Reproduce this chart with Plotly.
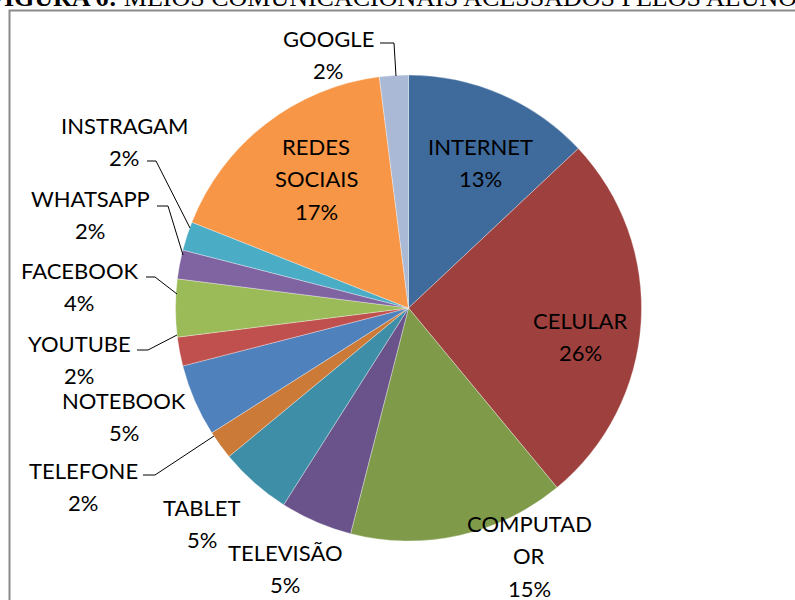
import plotly.graph_objects as go

# ---- data ----
categories = ["INTERNET", "CELULAR", "COMPUTADOR", "TELEVISÃO", "TABLET", "TELEFONE",
              "NOTEBOOK", "YOUTUBE", "FACEBOOK", "WHATSAPP", "INSTRAGAM", "REDES SOCIAIS", "GOOGLE"]
values = [13, 26, 15, 5, 5, 2, 5, 2, 4, 2, 2, 17, 2]
# label wrapping as shown in the chart
label_lines = [["INTERNET"], ["CELULAR"], ["COMPUTAD", "OR"], ["TELEVISÃO"], ["TABLET"], ["TELEFONE"],
               ["NOTEBOOK"], ["YOUTUBE"], ["FACEBOOK"], ["WHATSAPP"], ["INSTRAGAM"], ["REDES", "SOCIAIS"], ["GOOGLE"]]
title_bold = "FIGURA 6:"
title_rest = "MEIOS COMUNICACIONAIS ACESSADOS PELOS ALUNOS"

# ---- style ----
colors = ["#3E6A9C", "#9E413E", "#7F9B4A", "#69538A", "#3D8EA6", "#CC7A38",
          "#4F81BD", "#C0504D", "#9BBB59", "#8064A2", "#4BACC6", "#F79646", "#A9B9D6"]

W, H = 795, 600
def px(x):
    return x / W
def py(y):
    return 1 - y / H

# label block positions (pixel centers of first line) and line spacing
label_pos = [(480, 146), (580, 320), (529, 523), (285, 552), (202, 507), (83, 470),
             (124, 400), (79, 343), (79, 270), (90, 198), (124, 125), (316, 146), (328, 38)]
LINE = 32.5

# leader lines (pixel coords)
leaders = [
    [(380, 43), (394, 43), (396, 76)],
    [(147, 161), (156, 161), (190, 228)],
    [(157, 206), (168, 206), (183, 255)],
    [(146, 277), (155, 277), (177, 294)],
    [(137, 350), (148, 350), (177, 335)],
    [(143, 475), (155, 475), (214, 436)],
]

cx, cy, r = 408.5, 308, 233

fig = go.Figure(go.Pie(
    labels=categories,
    values=values,
    sort=False,
    direction="clockwise",
    rotation=0,
    marker=dict(colors=colors, line=dict(color="rgba(255,255,255,0.55)", width=0.6)),
    textinfo="none",
    hoverinfo="label+percent",
    domain=dict(x=[px(cx - r), px(cx + r)], y=[py(cy + r), py(cy - r)]),
    showlegend=False,
))

annotations = []
font = dict(family="Lato", size=22, color="#000000")
for lines, v, (x, y) in zip(label_lines, values, label_pos):
    all_lines = lines + [f"{v}%"]
    for i, t in enumerate(all_lines):
        annotations.append(dict(
            x=px(x), y=py(y + i * LINE), xref="paper", yref="paper",
            text=t, showarrow=False, xanchor="center", yanchor="middle",
            font=font,
        ))

annotations.append(dict(
    x=px(-14), y=py(14), xref="paper", yref="paper",
    text=f"<b>{title_bold}</b> {title_rest}", showarrow=False,
    xanchor="left", yanchor="bottom",
    font=dict(family="Liberation Serif", size=26, color="#000000"),
))

shapes = []
for pts in leaders:
    path = "M " + " L ".join(f"{px(x)},{py(y)}" for x, y in pts)
    shapes.append(dict(type="path", path=path, xref="paper", yref="paper",
                       line=dict(color="#000000", width=1)))
# frame
shapes.append(dict(type="rect", xref="paper", yref="paper",
                   x0=px(9.5), x1=px(W + 20), y0=py(H + 20), y1=py(10.5),
                   line=dict(color="#8A8A8A", width=2)))

fig.update_layout(
    width=W, height=H,
    margin=dict(l=0, r=0, t=0, b=0),
    paper_bgcolor="white",
    plot_bgcolor="white",
    annotations=annotations,
    shapes=shapes,
)

fig.write_html("out.html")
